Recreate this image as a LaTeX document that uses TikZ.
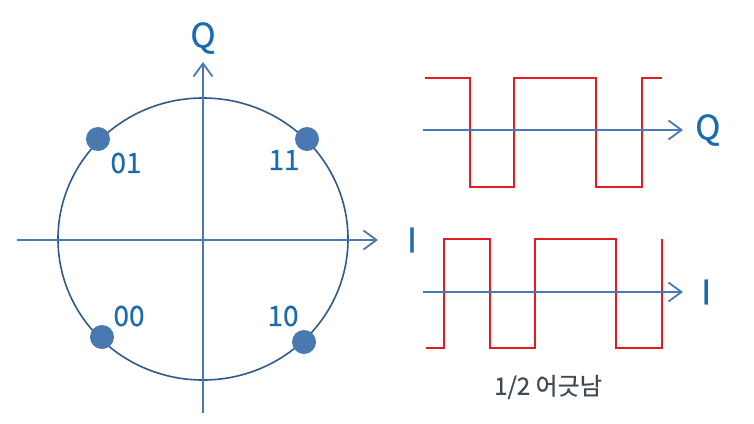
\documentclass[tikz,border=0pt]{standalone}
\usepackage{fontspec}
\setmainfont{Noto Sans CJK KR}
\newfontfamily\lblfont[FakeBold=0.6]{Noto Sans CJK KR}
\usetikzlibrary{arrows.meta,positioning}
\definecolor{axisblue}{HTML}{4A78B6}
\definecolor{ringblue}{HTML}{2F5A8C}
\definecolor{dotblue}{HTML}{4A78B0}
\definecolor{textblue}{HTML}{1B6AB4}
\definecolor{wavered}{HTML}{E31B23}
\definecolor{capgray}{HTML}{404A55}

\begin{document}
\begin{tikzpicture}[x=1pt, y=-1pt,
    axis/.style={draw=axisblue, line width=1.8pt, -{Straight Barb[length=13pt, width=19pt]}},
    ring/.style={draw=ringblue, line width=1.6pt},
    dot/.style={circle, fill=dotblue, inner sep=0pt, minimum size=24pt},
    num/.style={text=textblue, font=\lblfont\fontsize{28}{30}\selectfont, inner sep=0pt},
    axlbl/.style={text=textblue, font=\lblfont\fontsize{34}{36}\selectfont, inner sep=0pt},
    wave/.style={draw=wavered, line width=2.2pt},
    captext/.style={text=capgray, font=\lblfont\fontsize{24}{26}\selectfont, inner sep=0pt}
]
\useasboundingbox (0,0) rectangle (754,423);

\coordinate (ctr) at (203,239);
\draw[ring] (ctr) ellipse [x radius=145pt, y radius=141pt];

\coordinate (iw) at (17,240);
\coordinate (ie) at (378,240);
\coordinate (qs) at (203,413);
\coordinate (qn) at (203,62);
\draw[axis] (iw) -- (ie);
\draw[axis] (qs) -- (qn);
\node[axlbl] (qlab) at (203,38) {Q};
\node[axlbl] (ilab) at (412,240) {I};

\node[dot] (d01) at (98,139) {};
\node[dot] (d11) at (307,139) {};
\node[dot] (d00) at (102,337) {};
\node[dot] (d10) at (304,342) {};
\node[num] (l01) at (126,163) {01};
\node[num] (l11) at (284,160) {11};
\node[num] (l00) at (129,316) {00};
\node[num] (l10) at (283,316) {10};

\draw[wave] (425,78) -| (470,187) -| (514,78) -| (596,187) -| (642,78) -- (662,78);
\draw[wave] (426,348) -| (444,239) -| (490,348) -| (535,239) -| (616,348) -| (662,239);

\coordinate (qw) at (423,130);
\coordinate (qe) at (683,130);
\coordinate (wi) at (423,292);
\coordinate (we) at (683,292);
\draw[axis] (qw) -- (qe);
\draw[axis] (wi) -- (we);
\node[axlbl, right=12pt of qe] (qwlab) {Q};
\node[axlbl, right=18pt of we] (iwlab) {I};

\node[captext] (shift) at (548,387) {1/2 어긋남};
\end{tikzpicture}
\end{document}
